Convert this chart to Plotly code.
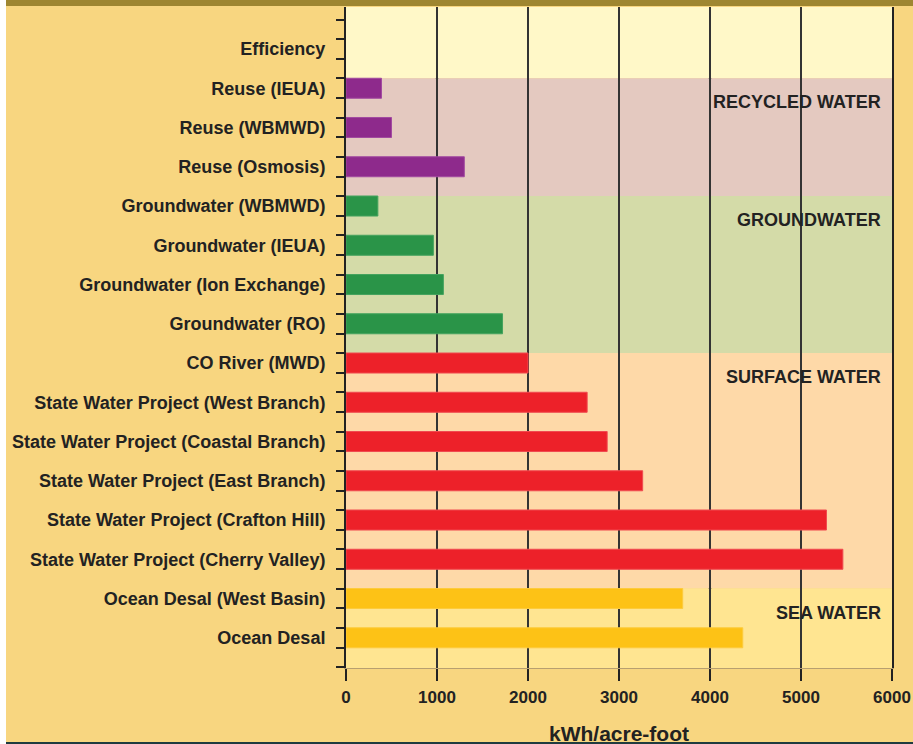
import plotly.graph_objects as go

# ---------------- data ----------------
categories = [
    "Efficiency",
    "Reuse (IEUA)",
    "Reuse (WBMWD)",
    "Reuse (Osmosis)",
    "Groundwater (WBMWD)",
    "Groundwater (IEUA)",
    "Groundwater (Ion Exchange)",
    "Groundwater (RO)",
    "CO River (MWD)",
    "State Water Project (West Branch)",
    "State Water Project (Coastal Branch)",
    "State Water Project (East Branch)",
    "State Water Project (Crafton Hill)",
    "State Water Project (Cherry Valley)",
    "Ocean Desal (West Basin)",
    "Ocean Desal",
]
kwh_per_af = [0, 390, 500, 1300, 350, 960, 1070, 1720, 2000, 2650, 2870, 3260, 5280, 5460, 3700, 4360]

section_names = ["", "RECYCLED WATER", "GROUNDWATER", "SURFACE WATER", "SEA WATER"]
section_start = [0, 1, 4, 8, 14]

x_ticks = [0, 1000, 2000, 3000, 4000, 5000, 6000]
x_title = "kWh/acre-foot"

# ---------------- style ----------------
W, H = 913, 744
ML, MR, MT, MB = 346, 21, 7, 76
GOLD = "#F8D680"
band_colors = ["#FFF8C8", "#E4C9C0", "#D4DBA8", "#FED9A8", "#FFE591"]
bar_colors = ["#FFF8C8", "#8E2A8C", "#2A9448", "#ED2129", "#FDC216"]
bar_edge = ["#FFF8C8", "#A24AA0", "#45A35E", "#F04A50", "#FDCB3C"]
thick_grid = [1000, 4000]
TEXT = "#222222"
FONT = "Liberation Sans"
BAR_W = 0.51
Y_RANGE = [15.77, -1.07]

idx = list(range(len(categories)))
bounds = section_start + [len(categories)]

fig = go.Figure()
for s in range(1, len(section_names)):
    rows = idx[bounds[s]:bounds[s + 1]]
    fig.add_trace(go.Bar(
        orientation="h",
        y=rows,
        x=[kwh_per_af[i] for i in rows],
        width=BAR_W,
        marker=dict(color=bar_colors[s], line=dict(color=bar_edge[s], width=1)),
        showlegend=False,
        hoverinfo="skip",
    ))

shapes = []
# background bands per section
for s in range(len(section_names)):
    y0 = Y_RANGE[1] if s == 0 else bounds[s] - BAR_W / 2
    y1 = Y_RANGE[0] if s == len(section_names) - 1 else bounds[s + 1] - BAR_W / 2
    shapes.append(dict(type="rect", xref="x", yref="y", x0=x_ticks[0], x1=x_ticks[-1],
                       y0=y0, y1=y1, fillcolor=band_colors[s], line=dict(width=0),
                       layer="below"))
# thicker grid lines
for g in thick_grid:
    shapes.append(dict(type="line", xref="x", yref="paper", x0=g, x1=g, y0=0, y1=1,
                       line=dict(color="#1A1A1A", width=3.5), layer="between"))

# page decorations (paper coords)
pw = W - ML - MR
ph = H - MT - MB
px = lambda p: (p - ML) / pw
py = lambda p: (H - MB - p) / ph
shapes.append(dict(type="rect", xref="paper", yref="paper", x0=px(6), x1=px(W), y0=py(0), y1=py(6),
                   fillcolor="#9E8631", line=dict(width=0), layer="above"))
shapes.append(dict(type="rect", xref="paper", yref="paper", x0=px(0), x1=px(6), y0=py(0), y1=py(H),
                   fillcolor="#FFFFFF", line=dict(width=0), layer="above"))
shapes.append(dict(type="rect", xref="paper", yref="paper", x0=px(6), x1=px(W), y0=py(H - 2), y1=py(H),
                   fillcolor="#1F3B3F", line=dict(width=0), layer="above"))

annotations = []
for s in range(1, len(section_names)):
    annotations.append(dict(
        x=x_ticks[-1], y=bounds[s] + 0.36, xref="x", yref="y",
        text=section_names[s], showarrow=False, xanchor="right", yanchor="middle", xshift=-9,
        font=dict(family=FONT, size=18, color=TEXT, weight="bold"),
    ))
annotations.append(dict(
    x=0.5, y=0, xref="paper", yref="paper", text=x_title, showarrow=False,
    xanchor="center", yanchor="middle", yshift=-(733 - (H - MB)),
    font=dict(family=FONT, size=21, color=TEXT, weight="bold"),
))

fig.update_layout(
    width=W, height=H,
    margin=dict(l=ML, r=MR, t=MT, b=MB, pad=0, autoexpand=False),
    paper_bgcolor=GOLD, plot_bgcolor=GOLD,
    barmode="overlay",
    shapes=shapes,
    annotations=annotations,
    xaxis=dict(
        range=[x_ticks[0], x_ticks[-1]], tickmode="array", tickvals=x_ticks,
        ticktext=[str(t) for t in x_ticks],
        showgrid=True, gridcolor="#333333", gridwidth=2,
        zeroline=False, showline=True, linecolor="#B8A070", linewidth=1,
        ticks="outside", ticklen=12, tickwidth=2, tickcolor="#222222",
        tickfont=dict(family=FONT, size=17, color=TEXT, weight="bold"),
        ticklabelstandoff=2, automargin=False,
        fixedrange=True,
    ),
    yaxis=dict(
        range=Y_RANGE, tickmode="array", tickvals=idx, ticktext=categories,
        showgrid=False, zeroline=False,
        showline=True, linecolor="#222222", linewidth=2, mirror=True,
        ticks="", ticklabelstandoff=15, automargin=False,
        tickfont=dict(family=FONT, size=18, color=TEXT, weight="bold"),
        minor=dict(tickmode="linear", tick0=0.25, dtick=0.5, ticks="outside",
                   ticklen=8, tickwidth=2, tickcolor="#222222", showgrid=False),
        fixedrange=True,
    ),
)

fig.write_html("out.html")
